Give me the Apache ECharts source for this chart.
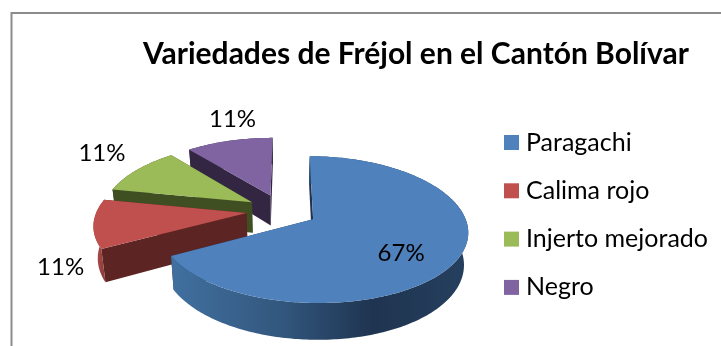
<!DOCTYPE html>
<html><head><meta charset="utf-8">
<style>html,body{margin:0;padding:0;background:#fff}#c{width:721px;height:346px}</style>
<script src="https://cdn.jsdelivr.net/npm/echarts@6/dist/echarts.min.js"></script>
</head><body><div id="c"></div>
<script>
const TITLE = 'Variedades de Fréjol en el Cantón Bolívar';
const CATEGORIES = ['Paragachi', 'Calima rojo', 'Injerto mejorado', 'Negro'];
const VALUES = [67, 11, 11, 11];

const COLORS = ['#4F81BD', '#C0504D', '#9BBB59', '#8064A2'];
const WALLS = ['#1F3450', '#5C2523', '#404F22', '#322642'];
const SIDE_STOPS = [
  [[0, '#41709F'], [0.36, '#33587F'], [0.68, '#1F3450'], [1, '#25405F']],
  [[0, '#B5504D'], [1, '#8E3D3A']],
  [[0, '#404F22'], [1, '#404F22']],
  [[0, '#322642'], [1, '#322642']]
];
const FONT = 'Lato';
// Oblique view of the pie: centre, radii, perspective, thickness, explosion
const VIEW = { cx: 282, cy: 210.5, rx: 149.7, ry: 69.5, perspY: 0.14, perspX: 0.15, depth: 31, shrink: 0.023, explode: 0.238, startDeg: 0.3 };
// Label offset from each slice's tip
const LABEL_OFFSET = [[88, 34], [-186, 54], [-150, -49], [-38, -76]];

const total = VALUES.reduce((a, b) => a + b, 0);
const share = VALUES.map(v => v / total);
function dir(deg) { const t = deg * Math.PI / 180; return [Math.sin(t), -Math.cos(t)]; }
function project(u, v, h) {
  const s = 1 / (1 - VIEW.perspY * v);
  const sx = 1 / (1 - VIEW.perspX * v);
  return [VIEW.cx + VIEW.rx * u * sx * (1 - VIEW.shrink * h),
          VIEW.cy + (VIEW.ry * v + VIEW.depth * h) * s];
}
function sliceRange(i) {
  let a = VIEW.startDeg;
  for (let k = 0; k < i; k++) a += share[k] * 360;
  return [a, a + share[i] * 360];
}
function renderSlice(i) {
  return function () {
    const [a0, a1] = sliceRange(i);
    const mid = dir((a0 + a1) / 2);
    const ox = mid[0] * VIEW.explode, oy = mid[1] * VIEW.explode;
    const arc = [];
    const n = Math.max(8, Math.ceil(a1 - a0));
    for (let k = 0; k <= n; k++) {
      const d = dir(a0 + (a1 - a0) * k / n);
      arc.push([ox + d[0], oy + d[1]]);
    }
    const top = arc.map(p => project(p[0], p[1], 0));
    const bot = arc.map(p => project(p[0], p[1], 1));
    const tipT = project(ox, oy, 0), tipB = project(ox, oy, 1);
    const xs = top.map(p => p[0]);
    const grad = new echarts.graphic.LinearGradient(Math.min(...xs), 0, Math.max(...xs), 0,
      SIDE_STOPS[i].map(s => ({ offset: s[0], color: s[1] })), true);
    const base = (4 - i) * 10;
    const off = LABEL_OFFSET[i];
    return {
      type: 'group',
      children: [
        { type: 'polygon', z2: base + 1, shape: { points: [tipT, top[0], bot[0], tipB] }, style: { fill: WALLS[i] } },
        { type: 'polygon', z2: base + 1, shape: { points: [tipT, top[n], bot[n], tipB] }, style: { fill: WALLS[i] } },
        { type: 'polygon', z2: base + 2, shape: { points: top.concat(bot.slice().reverse()) }, style: { fill: grad } },
        { type: 'polygon', z2: base + 3, shape: { points: [tipT].concat(top) }, style: { fill: COLORS[i] } },
        { type: 'text', z2: 100, style: {
            x: tipT[0] + off[0], y: tipT[1] + off[1],
            text: Math.round(share[i] * 100) + '%',
            font: '24px ' + FONT, fill: '#000', textAlign: 'center', textVerticalAlign: 'middle' } }
      ]
    };
  };
}

const chart = echarts.init(document.getElementById('c'), null, { renderer: 'canvas' });
chart.setOption({
  animation: false,
  backgroundColor: '#fff',
  color: COLORS,
  title: { text: TITLE, left: 143, top: 39, padding: 0,
           textStyle: { fontFamily: FONT, fontWeight: 'bold', fontSize: 30, color: '#000' } },
  legend: {
    orient: 'vertical', left: 504, top: 130, padding: 0, itemGap: 23.3, itemWidth: 15, itemHeight: 15,
    icon: 'rect', selectedMode: false,
    data: CATEGORIES,
    textStyle: { fontFamily: FONT, fontSize: 25, color: '#000', padding: [0, 0, 0, 2] }
  },
  graphic: [{ type: 'polyline', silent: true,
    shape: { points: [[11.5, 346], [11.5, 13], [721, 13]] },
    style: { stroke: '#8C8C8C', lineWidth: 2, fill: null } }],
  series: CATEGORIES.map((name, i) => ({
    type: 'custom', name, coordinateSystem: 'none', silent: true,
    renderItem: renderSlice(i), data: [VALUES[i]]
  }))
});
</script></body></html>
